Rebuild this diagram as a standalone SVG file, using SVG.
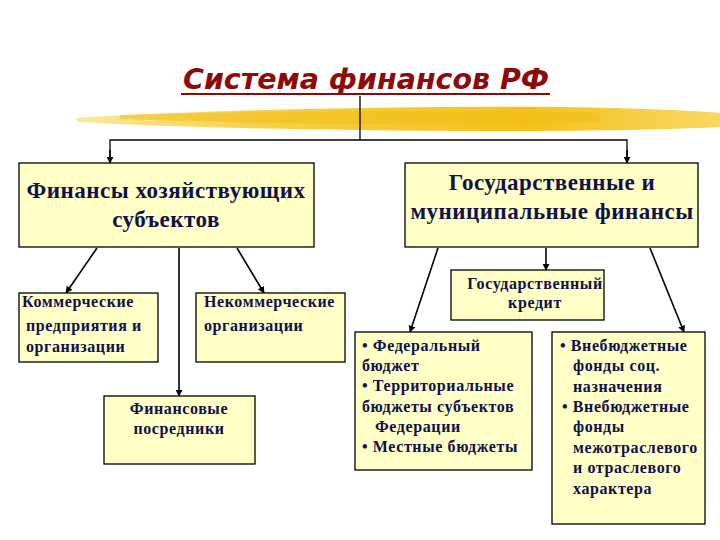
<svg xmlns="http://www.w3.org/2000/svg" width="720" height="540" viewBox="0 0 720 540">
<style>
.box{fill:#FFFFC6;stroke:#000;stroke-width:1.3}
.t1{font-family:"Liberation Serif","Times New Roman",serif;font-weight:bold;font-size:23px;letter-spacing:0.5px;fill:#10104A}
.t2{font-family:"Liberation Serif","Times New Roman",serif;font-weight:bold;font-size:16px;letter-spacing:0.6px;fill:#10104A}
.ln{stroke:#000;stroke-width:1.3;fill:none}
.ar{stroke:#000;stroke-width:1.6;fill:none;marker-end:url(#ah)}
</style>
<defs>
<marker id="ah" viewBox="0 0 10 10" refX="9" refY="5" markerWidth="7" markerHeight="7" markerUnits="userSpaceOnUse" orient="auto">
<path d="M0,0 L10,5 L0,10 z" fill="#000"/>
</marker>
<linearGradient id="brush" x1="0" y1="0" x2="1" y2="0">
<stop offset="0" stop-color="#FBE9A0"/>
<stop offset="0.3" stop-color="#F6CF45"/>
<stop offset="0.7" stop-color="#F4C21C"/>
<stop offset="1" stop-color="#F8D860"/>
</linearGradient>
</defs>
<rect width="720" height="540" fill="#fff"/>
<g id="title">
<path d="M75,118 C200,110 400,106 560,107 C640,108 700,111 720,113 L720,127 C640,131 500,132 360,130 C250,129 150,126 78,122 Z" fill="url(#brush)"/>
<path d="M120,115 C260,111 420,110 600,113 L600,122 C430,126 260,124 120,119 Z" fill="#F2BC12" opacity="0.5"/>
<text x="366" y="89" text-anchor="middle" font-family="'DejaVu Sans',Verdana,sans-serif" font-weight="bold" font-style="italic" font-size="28" fill="#8E0A0A" textLength="366" lengthAdjust="spacingAndGlyphs">Система финансов РФ</text>
<line x1="181" y1="94" x2="550" y2="94" stroke="#8E0A0A" stroke-width="2"/>
</g>
<g id="connectors">
<line class="ln" x1="360" y1="96" x2="360" y2="140"/>
<polyline class="ln" points="110,163 110,140 627,140 627,163"/>
<line class="ar" x1="110" y1="150" x2="110" y2="163"/>
<line class="ar" x1="627" y1="150" x2="627" y2="163"/>
<line class="ar" x1="97" y1="248" x2="66" y2="293"/>
<line class="ar" x1="179" y1="248" x2="179" y2="396"/>
<line class="ar" x1="237" y1="248" x2="264" y2="293"/>
<line class="ar" x1="438" y1="248" x2="410" y2="332"/>
<line class="ar" x1="546" y1="248" x2="546" y2="270"/>
<line class="ar" x1="650" y1="248" x2="684" y2="332"/>
</g>
<g id="n1">
<rect class="box" x="19" y="163" width="295" height="84"/>
<text class="t1" text-anchor="middle"><tspan x="166" y="198">Финансы хозяйствующих</tspan><tspan x="166" y="227">субъектов</tspan></text>
</g>
<g id="n2">
<rect class="box" x="405" y="163" width="293" height="84"/>
<text class="t1" text-anchor="middle"><tspan x="552" y="190">Государственные и</tspan><tspan x="552" y="219">муниципальные финансы</tspan></text>
</g>
<g id="n3">
<rect class="box" x="19" y="293" width="139" height="69"/>
<text class="t2"><tspan x="22" y="307">Коммерческие</tspan><tspan x="26" y="331">предприятия и</tspan><tspan x="26" y="352">организации</tspan></text>
</g>
<g id="n4">
<rect class="box" x="196" y="293" width="149" height="69"/>
<text class="t2"><tspan x="204" y="307">Некоммерческие</tspan><tspan x="204" y="331">организации</tspan></text>
</g>
<g id="n5">
<rect class="box" x="104" y="396" width="151" height="68"/>
<text class="t2" text-anchor="middle"><tspan x="179" y="414">Финансовые</tspan><tspan x="179" y="434">посредники</tspan></text>
</g>
<g id="n6">
<rect class="box" x="451" y="270" width="153" height="50"/>
<text class="t2" text-anchor="middle"><tspan x="535" y="289">Государственный</tspan><tspan x="535" y="308">кредит</tspan></text>
</g>
<g id="n7">
<rect class="box" x="355" y="332" width="177" height="138"/>
<text class="t2"><tspan x="362" y="351">•  Федеральный</tspan><tspan x="362" y="371">бюджет</tspan><tspan x="362" y="391">• Территориальные</tspan><tspan x="362" y="412">бюджеты  субъектов</tspan><tspan x="375" y="432">Федерации</tspan><tspan x="362" y="452">• Местные бюджеты</tspan></text>
</g>
<g id="n8">
<rect class="box" x="552" y="332" width="153" height="192"/>
<text class="t2"><tspan x="560" y="351">•  Внебюджетные</tspan><tspan x="573" y="371">фонды соц.</tspan><tspan x="573" y="392">назначения</tspan><tspan x="562" y="412">• Внебюджетные</tspan><tspan x="573" y="432">фонды</tspan><tspan x="573" y="453">межотраслевого</tspan><tspan x="573" y="473">и отраслевого</tspan><tspan x="573" y="494">характера</tspan></text>
</g>
</svg>
